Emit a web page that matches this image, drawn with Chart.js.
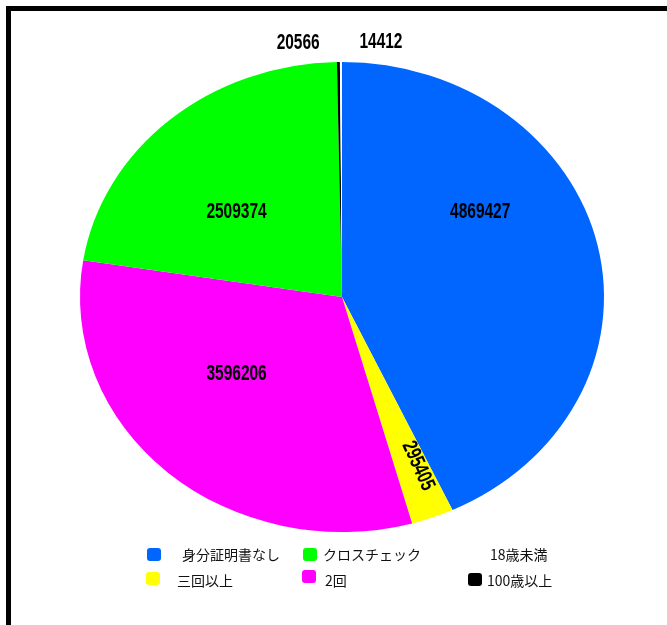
<!DOCTYPE html>
<html>
<head>
<meta charset="utf-8">
<script src="https://cdn.jsdelivr.net/npm/chart.js@4.4.1/dist/chart.umd.min.js"></script>
<style>
  html, body { margin: 0; padding: 0; background: #fff; overflow: hidden; }
  #wrap { position: relative; width: 667px; height: 625px; }
  #frame { position: absolute; left: 6px; top: 6px; width: 700px; height: 700px;
           border: 5px solid #000; box-sizing: border-box; }
  #pie { position: absolute; left: 0; top: 0; }
  .leg { position: absolute; font-family: "Noto Sans CJK JP", sans-serif; font-size: 14px;
         color: #111; line-height: 16px; white-space: nowrap; }
  .box { position: absolute; width: 14px; height: 13px; border-radius: 3px; }
</style>
</head>
<body>
<div id="wrap">
  <div id="frame"></div>
  <canvas id="pie" width="667" height="625"></canvas>
  <div id="legend"></div>
</div>
<script>
// données (ordre horaire depuis le haut)
const categories = ['身分証明書なし', '三回以上', '2回', 'クロスチェック', '100歳以上', '18歳未満'];
const values = [4869427, 295405, 3596206, 2509374, 20566, 14412];
const colors = ['#0066ff', '#ffff00', '#ff00ff', '#00ff00', '#000000', '#ffffff'];

// placement des étiquettes : angle (degrés) et fraction du rayon
const labelPlace = [
    { a: -34.5, r: 0.64 },
    { a: 68, r: 0.775, rotate: true },
    { a: 140.7, r: 0.52 },
    { a: 221.8, r: 0.54 },
    { a: -98.8, r: 1.094 },
    { a: -82.2, r: 1.095 }
];

// ordre et position de la légende
const legendOrder = [0, 3, 5, 1, 2, 4];
const legendPos = [
    { bx: 147, by: 548, tx: 182, ty: 546 },
    { bx: 303, by: 548, tx: 323, ty: 546 },
    { bx: 474, by: 548, tx: 490, ty: 546 },
    { bx: 146, by: 572, tx: 177, ty: 572 },
    { bx: 302, by: 570, tx: 325, ty: 572 },
    { bx: 468, by: 573, tx: 487, ty: 572 }
];

const stretchX = 262 / 235;

// étire le camembert horizontalement (ellipse)
const stretchPlugin = {
    id: 'stretch',
    beforeDatasetsDraw(chart) {
        const arc = chart.getDatasetMeta(0).data[0];
        const ctx = chart.ctx;
        ctx.save();
        ctx.translate(arc.x, 0);
        ctx.scale(stretchX, 1);
        ctx.translate(-arc.x, 0);
    },
    afterDatasetsDraw(chart) {
        chart.ctx.restore();
    }
};

// étiquettes de valeurs (police condensée)
const valueLabels = {
    id: 'valueLabels',
    afterDraw(chart) {
        const ctx = chart.ctx;
        const arcs = chart.getDatasetMeta(0).data;
        ctx.save();
        ctx.font = 'bold 18px "Liberation Sans", Arial, sans-serif';
        ctx.fillStyle = '#000';
        ctx.textAlign = 'center';
        ctx.textBaseline = 'middle';
        arcs.forEach(function(arc, i) {
            const p = labelPlace[i];
            const ang = p.a * Math.PI / 180;
            const x = arc.x + Math.cos(ang) * arc.outerRadius * p.r * stretchX;
            const y = arc.y + Math.sin(ang) * arc.outerRadius * p.r;
            ctx.save();
            ctx.translate(x, y);
            if (p.rotate) {
                ctx.rotate(Math.atan2(Math.sin(ang), Math.cos(ang) * stretchX));
            }
            ctx.scale(0.86, 1.18);
            ctx.fillText(String(values[i]), 0, 0);
            ctx.restore();
        });
        ctx.restore();
    }
};

document.addEventListener('DOMContentLoaded', function() {
    const ctx = document.getElementById('pie').getContext('2d');
    new Chart(ctx, {
        type: 'pie',
        data: {
            labels: categories,
            datasets: [{
                data: values,
                backgroundColor: colors,
                borderWidth: 0,
                hoverOffset: 0
            }]
        },
        options: {
            responsive: false,
            animation: false,
            layout: { padding: { left: 107, right: 90, top: 62, bottom: 93 } },
            plugins: {
                legend: { display: false },
                tooltip: { enabled: false }
            }
        },
        plugins: [stretchPlugin, valueLabels]
    });

    // légende HTML
    const legend = document.getElementById('legend');
    legendOrder.forEach(function(idx, k) {
        const pos = legendPos[k];
        if (colors[idx] !== '#ffffff') {
            const box = document.createElement('div');
            box.className = 'box';
            box.style.left = pos.bx + 'px';
            box.style.top = pos.by + 'px';
            box.style.background = colors[idx];
            legend.appendChild(box);
        }
        const txt = document.createElement('div');
        txt.className = 'leg';
        txt.style.left = pos.tx + 'px';
        txt.style.top = pos.ty + 'px';
        txt.textContent = categories[idx];
        legend.appendChild(txt);
    });
});
</script>
</body>
</html>
